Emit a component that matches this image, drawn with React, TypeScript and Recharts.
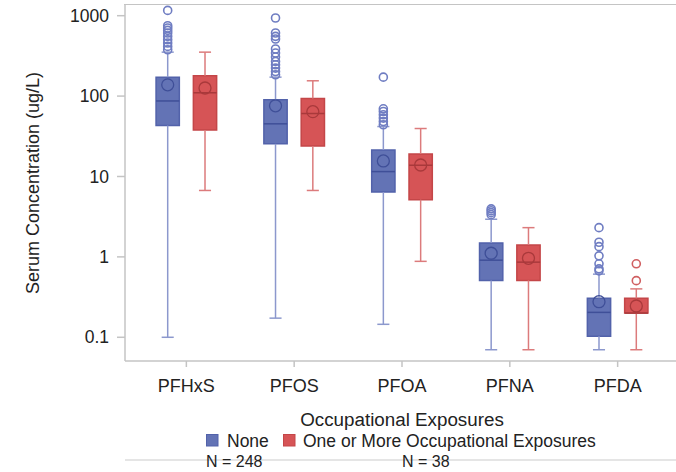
import React from "react";
import {
  ComposedChart,
  XAxis,
  YAxis,
  Scatter,
  ReferenceArea,
  ReferenceLine,
} from "recharts";

// compounds on the x axis
const compounds = ["PFHxS", "PFOS", "PFOA", "PFNA", "PFDA"];
const yTicks = [0.1, 1, 10, 100, 1000];
const X_DOMAIN = [0.431, 5.569];
const Y_DOMAIN = [0.0507, 1358];

// "None" group (N = 248)
const noneMin = [0.1, 0.173, 0.145, 0.07, 0.07];
const noneQ1 = [43, 25.5, 6.4, 0.51, 0.103];
const noneMedian = [87, 45.2, 11.5, 0.91, 0.204];
const noneMean = [138, 75.7, 15.6, 1.11, 0.277];
const noneQ3 = [172, 90, 21.4, 1.49, 0.305];
const noneMax = [352, 172, 41.8, 2.94, 0.61];
const noneOutliers = [
  [1164, 750, 703, 656, 609, 553, 502, 457, 415, 377],
  [936, 609, 553, 513, 385, 343, 306, 270, 245, 223, 202, 184],
  [172, 69.5, 64.3, 58.5, 53.2, 48.3, 44],
  [3.95, 3.75, 3.55, 3.35],
  [2.31, 1.52, 1.34, 1.03, 0.82, 0.71, 0.67],
];

// "One or More Occupational Exposures" group (N = 38)
const occMin = [6.7, 6.7, 0.88, 0.07, 0.07];
const occQ1 = [37.8, 24, 5.15, 0.51, 0.2];
const occMedian = [110, 60.7, 13.8, 0.86, 0.2];
const occMean = [126, 64, 13.9, 0.96, 0.245];
const occQ3 = [179, 93, 19.1, 1.41, 0.305];
const occMax = [352, 155, 39.5, 2.31, 0.4];
const occOutliers = [[], [], [], [], [0.82, 0.506]];

const GROUP_OFFSET = 0.173;
const HALF_BOX = 0.108;
const HALF_CAP = 0.056;

const BLUE = {
  fill: "#6373b5",
  edge: "#5262aa",
  median: "#3f4f98",
  whisker: "#8c98cd",
  point: "#6f7dc2",
};
const RED = {
  fill: "#d65456",
  edge: "#c44648",
  median: "#a9393b",
  whisker: "#dc7b7c",
  point: "#d05f61",
};

const FONT = "'Liberation Sans', Arial, sans-serif";
const TEXT = "#222";
const AXIS = "#c4c4c4";

type Group = {
  key: string;
  offset: number;
  colors: typeof BLUE;
  min: number[];
  q1: number[];
  median: number[];
  mean: number[];
  q3: number[];
  max: number[];
  outliers: number[][];
};

const groups: Group[] = [
  {
    key: "none",
    offset: -GROUP_OFFSET,
    colors: BLUE,
    min: noneMin,
    q1: noneQ1,
    median: noneMedian,
    mean: noneMean,
    q3: noneQ3,
    max: noneMax,
    outliers: noneOutliers,
  },
  {
    key: "occ",
    offset: GROUP_OFFSET,
    colors: RED,
    min: occMin,
    q1: occQ1,
    median: occMedian,
    mean: occMean,
    q3: occQ3,
    max: occMax,
    outliers: occOutliers,
  },
];

function seg(x1: number, y1: number, x2: number, y2: number) {
  return [
    { x: x1, y: y1 },
    { x: x2, y: y2 },
  ];
}

function renderGroup(g: Group) {
  const out: React.ReactNode[] = [];
  compounds.forEach((_, i) => {
    const c = i + 1 + g.offset;
    const col = g.colors;
    out.push(
      <ReferenceLine key={`${g.key}-wl-${i}`} segment={seg(c, g.min[i], c, g.q1[i])} stroke={col.whisker} strokeWidth={1.5} />,
      <ReferenceLine key={`${g.key}-wh-${i}`} segment={seg(c, g.q3[i], c, g.max[i])} stroke={col.whisker} strokeWidth={1.5} />,
      <ReferenceLine key={`${g.key}-cl-${i}`} segment={seg(c - HALF_CAP, g.min[i], c + HALF_CAP, g.min[i])} stroke={col.whisker} strokeWidth={1.5} />,
      <ReferenceLine key={`${g.key}-ch-${i}`} segment={seg(c - HALF_CAP, g.max[i], c + HALF_CAP, g.max[i])} stroke={col.whisker} strokeWidth={1.5} />,
      <ReferenceArea
        key={`${g.key}-box-${i}`}
        x1={c - HALF_BOX}
        x2={c + HALF_BOX}
        y1={g.q1[i]}
        y2={g.q3[i]}
        fill={col.fill}
        fillOpacity={1}
        stroke={col.edge}
        strokeWidth={1.5}
      />,
      <ReferenceLine key={`${g.key}-md-${i}`} segment={seg(c - HALF_BOX, g.median[i], c + HALF_BOX, g.median[i])} stroke={col.median} strokeWidth={1.5} />
    );
  });
  return out;
}

export default function App() {
  const meanPoints = groups.map((g) =>
    g.mean.map((v, i) => ({ x: i + 1 + g.offset, y: v }))
  );
  const outlierPoints = groups.map((g) =>
    g.outliers.flatMap((vals, i) => vals.map((v) => ({ x: i + 1 + g.offset, y: v })))
  );

  return (
    <div
      style={{
        position: "fixed",
        left: 0,
        top: 0,
        width: 676,
        height: 472,
        overflow: "hidden",
        background: "#fff",
        fontFamily: FONT,
      }}
    >
      <ComposedChart width={690} height={400} margin={{ top: 5, right: 11, bottom: 0, left: 0 }}>
        <XAxis
          dataKey="x"
          type="number"
          domain={X_DOMAIN}
          allowDataOverflow
          ticks={[1, 2, 3, 4, 5]}
          tickFormatter={(v: number) => compounds[v - 1] ?? ""}
          height={39}
          tickSize={6}
          tickMargin={12}
          axisLine={{ stroke: AXIS, strokeWidth: 1.5 }}
          tickLine={{ stroke: AXIS, strokeWidth: 1.5 }}
          tick={{ fill: TEXT, fontSize: 18, fontFamily: FONT }}
        />
        <YAxis
          dataKey="y"
          type="number"
          scale="log"
          domain={Y_DOMAIN}
          allowDataOverflow
          ticks={yTicks}
          tickFormatter={(v: number) => String(v)}
          width={125}
          tickSize={8}
          tickMargin={8}
          axisLine={{ stroke: AXIS, strokeWidth: 1.5 }}
          tickLine={{ stroke: AXIS, strokeWidth: 1.5 }}
          tick={{ fill: TEXT, fontSize: 17.5, fontFamily: FONT }}
          label={{
            content: (p: any) => {
              const vb = p.viewBox || {};
              const cx = (vb.x ?? 0) + 32.5;
              const cy = (vb.y ?? 0) + (vb.height ?? 0) / 2;
              return (
                <text
                  x={cx}
                  y={cy}
                  transform={`rotate(-90 ${cx} ${cy})`}
                  textAnchor="middle"
                  dominantBaseline="central"
                  fill={TEXT}
                  fontSize={18}
                  fontFamily={FONT}
                >
                  Serum Concentration (ug/L)
                </text>
              );
            },
          }}
        />
        {groups.map((g) => renderGroup(g))}
        {groups.map((g, gi) => (
          <Scatter
            key={`mean-${g.key}`}
            data={meanPoints[gi]}
            isAnimationActive={false}
            shape={(p: any) => (
              <circle cx={p.cx} cy={p.cy} r={6} fill="none" stroke={g.colors.median} strokeWidth={1.3} />
            )}
          />
        ))}
        {groups.map((g, gi) => (
          <Scatter
            key={`out-${g.key}`}
            data={outlierPoints[gi]}
            isAnimationActive={false}
            shape={(p: any) => (
              <circle cx={p.cx} cy={p.cy} r={4} fill="none" stroke={g.colors.point} strokeWidth={1.6} />
            )}
          />
        ))}
      </ComposedChart>

      {/* top edge of the plot frame */}
      <div
        style={{
          position: "absolute",
          left: 124,
          top: 4.25,
          width: 560,
          height: 0,
          borderTop: `1.5px solid ${AXIS}`,
        }}
      />

      <svg
        width={676}
        height={72}
        style={{ position: "absolute", left: 0, top: 400 }}
        fontFamily={FONT}
      >
        <text x={402} y={26} textAnchor="middle" fontSize={18.8} fill={TEXT}>
          Occupational Exposures
        </text>
        <rect x={206.5} y={34.5} width={11.5} height={11.5} fill={BLUE.fill} stroke={BLUE.edge} />
        <text x={227} y={46.5} fontSize={17.5} fill={TEXT}>
          None
        </text>
        <rect x={283.5} y={34.5} width={11.5} height={11.5} fill={RED.fill} stroke={RED.edge} />
        <text x={303} y={46.5} fontSize={17.5} fill={TEXT}>
          One or More Occupational Exposures
        </text>
        <line x1={125} y1={60} x2={676} y2={60} stroke="#dcdcdc" strokeWidth={1.5} />
        <text x={206} y={66.5} fontSize={16} fill={TEXT}>
          N = 248
        </text>
        <text x={402} y={66.5} fontSize={16} fill={TEXT}>
          N = 38
        </text>
      </svg>
    </div>
  );
}
